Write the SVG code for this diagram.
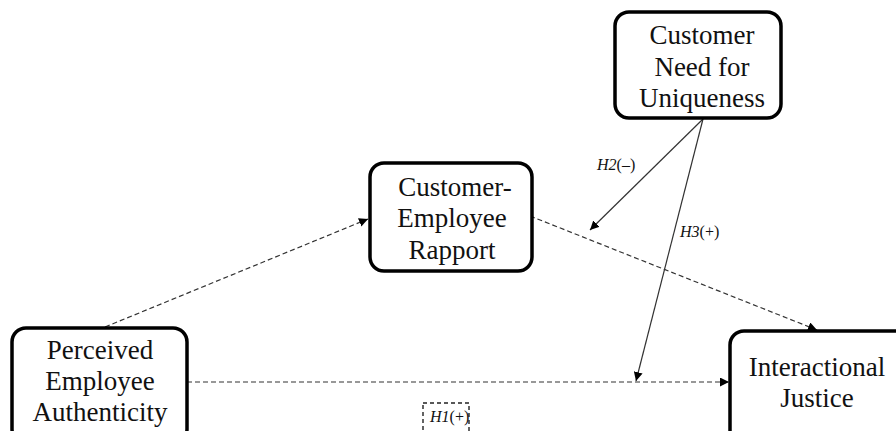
<svg xmlns="http://www.w3.org/2000/svg" width="896" height="431" viewBox="0 0 896 431">
<defs>
<marker id="ah" viewBox="0 0 10 10" refX="10" refY="5" markerWidth="9" markerHeight="9" markerUnits="userSpaceOnUse" orient="auto">
<path d="M0,0 L10,5 L0,10 z" fill="#000"/>
</marker>
<style>
.box{fill:#fff;stroke:#000;stroke-width:3.5}
.t{font-family:"Liberation Serif","Times New Roman",serif;font-size:27px;fill:#111;text-anchor:middle}
.lab{font-family:"Liberation Serif","Times New Roman",serif;font-size:16px;fill:#111}
.dash{fill:none;stroke:#333;stroke-width:1.2;stroke-dasharray:5,3}
.solid{fill:none;stroke:#333;stroke-width:1.2}
</style>
</defs>
<rect width="896" height="431" fill="#fff"/>
<g id="connectors">
<path class="dash" d="M105,327 L368,219" marker-end="url(#ah)"/>
<path class="dash" d="M187,382 L729,382" marker-end="url(#ah)"/>
<path class="dash" d="M530,216 L817,330" marker-end="url(#ah)"/>
<path class="solid" d="M703,119 L590,230" marker-end="url(#ah)"/>
<path class="solid" d="M703,119 L636,381" marker-end="url(#ah)"/>
</g>
<g id="cnu">
<rect class="box" x="615" y="12" width="166" height="106" rx="14"/>
<text class="t" x="702" y="44">Customer</text>
<text class="t" x="702" y="76">Need for</text>
<text class="t" x="702" y="107">Uniqueness</text>
</g>
<g id="rapport">
<rect class="box" x="370" y="163" width="162" height="108" rx="14"/>
<text class="t" x="455" y="196">Customer-</text>
<text class="t" x="452" y="227">Employee</text>
<text class="t" x="452" y="259">Rapport</text>
</g>
<g id="pea">
<rect class="box" x="12" y="328" width="175" height="115" rx="14"/>
<text class="t" x="100" y="359">Perceived</text>
<text class="t" x="100" y="390">Employee</text>
<text class="t" x="100" y="421">Authenticity</text>
</g>
<g id="ij">
<rect class="box" x="730" y="331" width="180" height="115" rx="14"/>
<text class="t" x="817" y="376">Interactional</text>
<text class="t" x="817" y="407">Justice</text>
</g>
<g id="h2">
<text class="lab" x="597" y="170"><tspan font-style="italic">H2</tspan>(–)</text>
</g>
<g id="h3">
<text class="lab" x="680" y="237"><tspan font-style="italic">H3</tspan>(+)</text>
</g>
<g id="h1">
<rect x="423" y="403" width="46" height="34" fill="none" stroke="#222" stroke-width="1.4" stroke-dasharray="4,3"/>
<text class="lab" x="430" y="422"><tspan font-style="italic">H1</tspan>(+)</text>
</g>
</svg>
